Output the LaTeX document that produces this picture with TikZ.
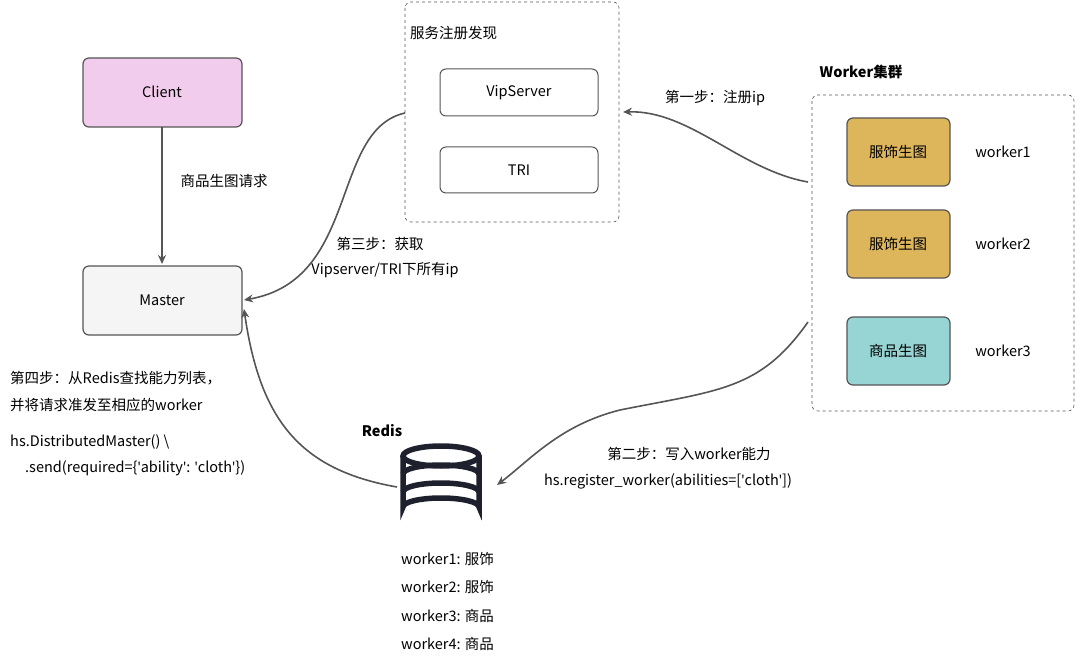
\documentclass[tikz,border=0pt]{standalone}
\usepackage{fontspec}
\setmainfont{Noto Sans CJK SC}
\newfontfamily\lat{Noto Sans}
\usetikzlibrary{arrows.meta}
\definecolor{bd}{HTML}{555555}
\tikzset{
 box/.style={draw=bd,line width=1.2pt,rounded corners=6pt},
 dbox/.style={draw=bd,dashed,line width=0.6pt,rounded corners=6pt},
 arr/.style={draw=bd,line width=1.6pt,-{Stealth[length=9pt,width=8pt]}},
 t/.style={font=\fontsize{14.5}{16}\selectfont,inner sep=0pt},
 tl/.style={t,anchor=west},
}
\newcommand{\q}{{\lat\symbol{39}}}
\begin{document}
\begin{tikzpicture}[x=1pt,y=-1pt]
\useasboundingbox (0,0) rectangle (1080,666);
% service discovery
\draw[dbox] (405,2) rectangle (619,222);
\node[tl] (sdt) at (410,33) {服务注册发现};
\draw[box,line width=1pt] (440,69) rectangle (598,116);
\node[t] (vip) at (519,93) {VipServer};
\draw[box,line width=1pt] (440,147) rectangle (598,193);
\node[t] (tri) at (519,170) {TRI};
\coordinate (sdl) at (405,113);
\coordinate (sdr) at (623,112);
% client master
\definecolor{pk}{HTML}{F2CCEC}
\draw[box,fill=pk] (83,58) rectangle (242,127);
\node[t] (client) at (162,92) {Client};
\draw[box,fill=gray!8] (83,266) rectangle (242,335);
\node[t] (master) at (162,300) {Master};
\draw[arr] (client) ++(0,35) -- (162,264);
\node[t] (l0) at (224,181) {商品生图请求};
% workers
\node[t,font=\fontsize{14.5}{16}\selectfont\bfseries] (wt) at (861,72) {Worker集群};
\draw[dbox] (812,95) rectangle (1074,411);
\definecolor{gold}{HTML}{DDB55A}\definecolor{teal2}{HTML}{97D5D4}
\draw[box,fill=gold] (847,118) rectangle (950,186);
\node[t] (w1) at (898,152) {服饰生图};
\draw[box,fill=gold] (847,210) rectangle (950,278);
\node[t] (w2) at (898,244) {服饰生图};
\draw[box,fill=teal2] (847,317) rectangle (950,385);
\node[t] (w3) at (898,351) {商品生图};
\node[t] (n1) at (1003,152) {worker1};
\node[t] (n2) at (1003,244) {worker2};
\node[t] (n3) at (1003,351) {worker3};
% redis icon
\node[t,font=\fontsize{14.5}{16}\selectfont\bfseries] (rt) at (382,431) {Redis};
\begin{scope}[line width=5.5pt,draw={rgb,255:red,30;green,33;blue,45}]
\draw (441,456) ellipse (38 and 10);
\draw (403,456) -- (403,507) arc (180:360:38 and 9) -- (479,456);
\draw (403,474) arc (180:360:38 and 9);
\draw (403,492) arc (180:360:38 and 9);
\end{scope}
\coordinate (rr) at (497,485);
\coordinate (rl) at (397,487);
\node[tl] at (401,559) {worker1: 服饰};
\node[tl] at (401,587) {worker2: 服饰};
\node[tl] at (401,616) {worker3: 商品};
\node[tl] at (401,644) {worker4: 商品};
% arrows
\coordinate (wa) at (808,182);
\coordinate (wb) at (808,322);
\draw[arr] (wa) .. controls (740,170) and (690,110) .. (sdr);
\node[t] at (715,98) {第一步：注册ip};
\draw[arr] (sdl) .. controls (330,130) and (360,280) .. (244,300);
\node[t] at (380,244) {第三步：获取};
\node[t] at (385,270) {Vipserver/TRI下所有ip};
\draw[arr] (wb) .. controls (760,390) and (720,390) .. (620,410) .. controls (560,425) and (530,460) .. (rr);
\node[t] at (689,454) {第二步：写入worker能力};
\node[t] at (668,481) {hs.register\_worker(abilities=[\q cloth\q])};
\draw[arr] (rl) .. controls (300,470) and (260,420) .. (244,309);
\node[tl] at (10,378) {第四步：从Redis查找能力列表，};
\node[tl] at (10,405) {并将请求准发至相应的worker};
\node[tl] at (10,442) {hs.DistributedMaster() \textbackslash};
\node[tl] at (25,468) {.send(required=\{\q ability\q: \q cloth\q\})};
\end{tikzpicture}
\end{document}
